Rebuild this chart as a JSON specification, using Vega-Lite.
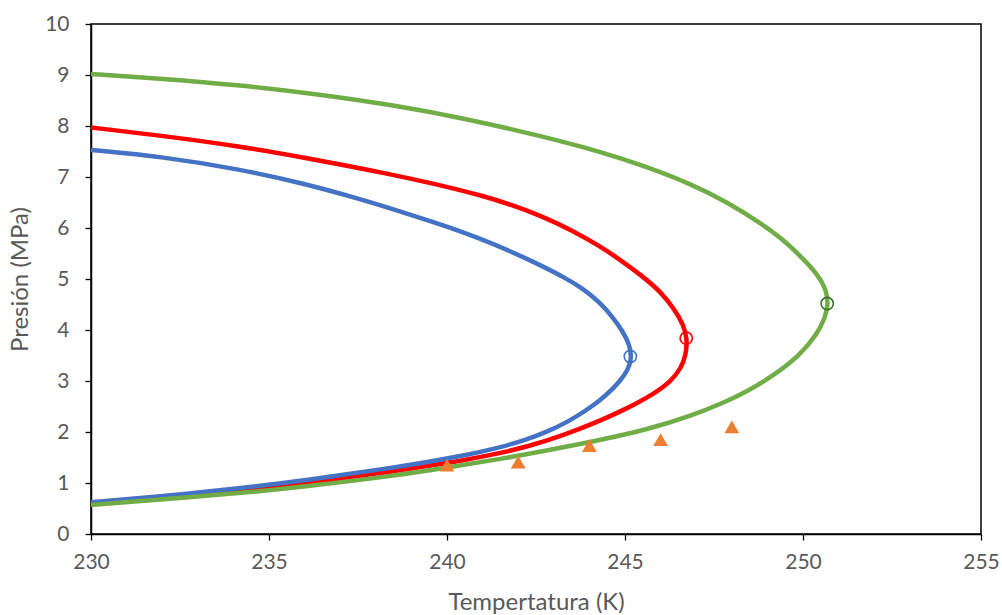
{
  "$schema": "https://vega.github.io/schema/vega-lite/v6.json",
  "autosize": "none",
  "width": 890,
  "height": 510,
  "padding": {"left": 91, "top": 24, "right": 21, "bottom": 81},
  "background": "white",
  "config": {
    "view": {"stroke": "#000000", "strokeWidth": 1.5},
    "axis": {
      "domainColor": "#000000",
      "domainWidth": 1.5,
      "tickColor": "#000000",
      "tickWidth": 1.3,
      "tickSize": 6,
      "grid": false,
      "labelFont": "Lato",
      "labelFontSize": 21,
      "labelColor": "#595959",
      "labelFlush": false,
      "titleFont": "Lato",
      "titleFontSize": 24,
      "titleFontWeight": "normal",
      "titleColor": "#595959"
    }
  },
  "datasets": {
    "curves": [
      {"s": "azul", "P": 0.62, "T": 230.0},
      {"s": "azul", "P": 0.74, "T": 232.0},
      {"s": "azul", "P": 0.90, "T": 234.2},
      {"s": "azul", "P": 1.05, "T": 236.0},
      {"s": "azul", "P": 1.29, "T": 238.4},
      {"s": "azul", "P": 1.42, "T": 239.5},
      {"s": "azul", "P": 1.54, "T": 240.5},
      {"s": "azul", "P": 1.68, "T": 241.4},
      {"s": "azul", "P": 1.84, "T": 242.2},
      {"s": "azul", "P": 2.00, "T": 242.8},
      {"s": "azul", "P": 2.20, "T": 243.4},
      {"s": "azul", "P": 2.42, "T": 243.9},
      {"s": "azul", "P": 2.62, "T": 244.3},
      {"s": "azul", "P": 2.87, "T": 244.7},
      {"s": "azul", "P": 3.12, "T": 245.0},
      {"s": "azul", "P": 3.32, "T": 245.14},
      {"s": "azul", "P": 3.50, "T": 245.18},
      {"s": "azul", "P": 3.72, "T": 245.12},
      {"s": "azul", "P": 3.97, "T": 244.94},
      {"s": "azul", "P": 4.25, "T": 244.66},
      {"s": "azul", "P": 4.55, "T": 244.28},
      {"s": "azul", "P": 4.82, "T": 243.8},
      {"s": "azul", "P": 5.03, "T": 243.3},
      {"s": "azul", "P": 5.28, "T": 242.6},
      {"s": "azul", "P": 5.54, "T": 241.8},
      {"s": "azul", "P": 5.80, "T": 240.9},
      {"s": "azul", "P": 6.03, "T": 240.0},
      {"s": "azul", "P": 6.21, "T": 239.2},
      {"s": "azul", "P": 6.39, "T": 238.4},
      {"s": "azul", "P": 6.58, "T": 237.5},
      {"s": "azul", "P": 6.87, "T": 236.0},
      {"s": "azul", "P": 7.15, "T": 234.2},
      {"s": "azul", "P": 7.40, "T": 232.0},
      {"s": "azul", "P": 7.53, "T": 230.0},
      {"s": "rojo", "P": 0.59, "T": 230.0},
      {"s": "rojo", "P": 0.71, "T": 232.0},
      {"s": "rojo", "P": 0.85, "T": 234.2},
      {"s": "rojo", "P": 0.99, "T": 236.0},
      {"s": "rojo", "P": 1.22, "T": 238.4},
      {"s": "rojo", "P": 1.34, "T": 239.5},
      {"s": "rojo", "P": 1.45, "T": 240.5},
      {"s": "rojo", "P": 1.57, "T": 241.4},
      {"s": "rojo", "P": 1.72, "T": 242.3},
      {"s": "rojo", "P": 1.93, "T": 243.25},
      {"s": "rojo", "P": 2.19, "T": 244.2},
      {"s": "rojo", "P": 2.44, "T": 245.0},
      {"s": "rojo", "P": 2.74, "T": 245.8},
      {"s": "rojo", "P": 3.00, "T": 246.3},
      {"s": "rojo", "P": 3.25, "T": 246.57},
      {"s": "rojo", "P": 3.50, "T": 246.71},
      {"s": "rojo", "P": 3.84, "T": 246.75},
      {"s": "rojo", "P": 4.10, "T": 246.64},
      {"s": "rojo", "P": 4.40, "T": 246.4},
      {"s": "rojo", "P": 4.75, "T": 246.0},
      {"s": "rojo", "P": 5.05, "T": 245.5},
      {"s": "rojo", "P": 5.36, "T": 244.9},
      {"s": "rojo", "P": 5.65, "T": 244.28},
      {"s": "rojo", "P": 5.96, "T": 243.5},
      {"s": "rojo", "P": 6.25, "T": 242.6},
      {"s": "rojo", "P": 6.46, "T": 241.8},
      {"s": "rojo", "P": 6.63, "T": 241.0},
      {"s": "rojo", "P": 6.81, "T": 240.0},
      {"s": "rojo", "P": 7.06, "T": 238.4},
      {"s": "rojo", "P": 7.38, "T": 236.0},
      {"s": "rojo", "P": 7.60, "T": 234.2},
      {"s": "rojo", "P": 7.81, "T": 232.0},
      {"s": "rojo", "P": 7.97, "T": 230.0},
      {"s": "verde", "P": 0.57, "T": 230.0},
      {"s": "verde", "P": 0.68, "T": 232.0},
      {"s": "verde", "P": 0.80, "T": 234.2},
      {"s": "verde", "P": 0.93, "T": 236.0},
      {"s": "verde", "P": 1.13, "T": 238.4},
      {"s": "verde", "P": 1.30, "T": 240.0},
      {"s": "verde", "P": 1.46, "T": 241.4},
      {"s": "verde", "P": 1.61, "T": 242.6},
      {"s": "verde", "P": 1.84, "T": 244.3},
      {"s": "verde", "P": 2.06, "T": 245.7},
      {"s": "verde", "P": 2.33, "T": 246.9},
      {"s": "verde", "P": 2.55, "T": 247.7},
      {"s": "verde", "P": 2.82, "T": 248.5},
      {"s": "verde", "P": 3.12, "T": 249.2},
      {"s": "verde", "P": 3.50, "T": 249.9},
      {"s": "verde", "P": 3.90, "T": 250.38},
      {"s": "verde", "P": 4.25, "T": 250.63},
      {"s": "verde", "P": 4.52, "T": 250.71},
      {"s": "verde", "P": 4.80, "T": 250.65},
      {"s": "verde", "P": 5.08, "T": 250.42},
      {"s": "verde", "P": 5.40, "T": 250.0},
      {"s": "verde", "P": 5.80, "T": 249.4},
      {"s": "verde", "P": 6.10, "T": 248.8},
      {"s": "verde", "P": 6.50, "T": 247.9},
      {"s": "verde", "P": 6.88, "T": 246.8},
      {"s": "verde", "P": 7.20, "T": 245.6},
      {"s": "verde", "P": 7.50, "T": 244.3},
      {"s": "verde", "P": 7.81, "T": 242.6},
      {"s": "verde", "P": 8.15, "T": 240.5},
      {"s": "verde", "P": 8.42, "T": 238.4},
      {"s": "verde", "P": 8.63, "T": 236.3},
      {"s": "verde", "P": 8.80, "T": 234.2},
      {"s": "verde", "P": 8.93, "T": 232.0},
      {"s": "verde", "P": 9.02, "T": 230.0}
    ],
    "crit": [
      {"s": "azul", "T": 245.15, "P": 3.48},
      {"s": "rojo", "T": 246.72, "P": 3.84},
      {"s": "verde", "T": 250.68, "P": 4.52}
    ],
    "exp": [
      {"T": 240.0, "P": 1.35},
      {"T": 242.0, "P": 1.41},
      {"T": 244.0, "P": 1.735},
      {"T": 246.0, "P": 1.85},
      {"T": 248.0, "P": 2.10}
    ]
  },
  "encoding": {
    "x": {
      "field": "T", "type": "quantitative",
      "scale": {"domain": [230, 255], "nice": false, "zero": false},
      "axis": {"values": [230, 235, 240, 245, 250, 255], "format": "d", "labelPadding": 11, "title": "Tempertatura (K)", "titleY": 68, "titleBaseline": "middle"}
    },
    "y": {
      "field": "P", "type": "quantitative",
      "scale": {"domain": [0, 10], "nice": false},
      "axis": {"values": [0, 1, 2, 3, 4, 5, 6, 7, 8, 9, 10], "format": "d", "labelPadding": 16, "title": "Presión (MPa)", "titleX": -71, "titleY": 255, "titleBaseline": "middle", "titleAngle": -90}
    }
  },
  "layer": [
    {
      "data": {"name": "curves"},
      "transform": [{"filter": "datum.s === 'rojo'"}],
      "mark": {"type": "line", "color": "#FF0000", "strokeWidth": 4.5, "clip": true, "interpolate": "basis"},
      "encoding": {"order": {"field": "P", "type": "quantitative"}}
    },
    {
      "data": {"name": "curves"},
      "transform": [{"filter": "datum.s === 'azul'"}],
      "mark": {"type": "line", "color": "#4472C4", "strokeWidth": 4.5, "clip": true, "interpolate": "basis"},
      "encoding": {"order": {"field": "P", "type": "quantitative"}}
    },
    {
      "data": {"name": "curves"},
      "transform": [{"filter": "datum.s === 'verde'"}],
      "mark": {"type": "line", "color": "#70AD47", "strokeWidth": 4.5, "clip": true, "interpolate": "basis"},
      "encoding": {"order": {"field": "P", "type": "quantitative"}}
    },
    {
      "data": {"name": "crit"},
      "mark": {"type": "point", "shape": "circle", "filled": false, "size": 150, "strokeWidth": 1.6, "opacity": 1},
      "encoding": {
        "color": {"field": "s", "type": "nominal", "scale": {"domain": ["azul", "rojo", "verde"], "range": ["#4472C4", "#FF0000", "#3F6F2A"]}, "legend": null}
      }
    },
    {
      "data": {"name": "exp"},
      "mark": {"type": "point", "shape": "triangle-up", "filled": true, "size": 220, "color": "#ED7D31", "opacity": 1}
    }
  ]
}
